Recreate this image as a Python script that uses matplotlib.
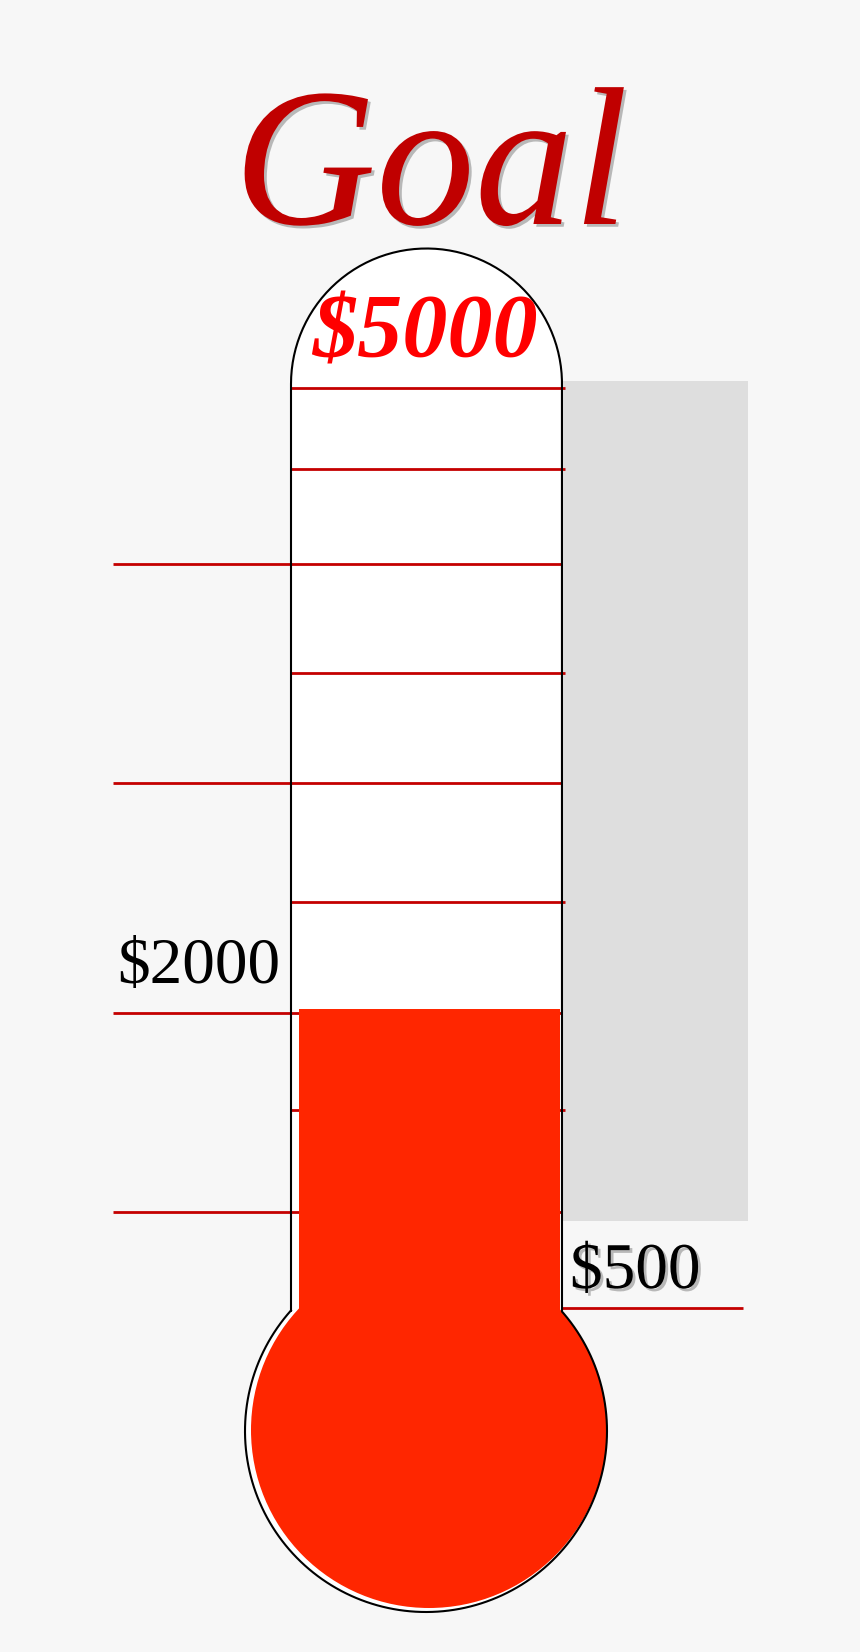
import numpy as np
import matplotlib
matplotlib.use('Agg')
import matplotlib.pyplot as plt
from matplotlib.transforms import Affine2D
from matplotlib.patches import Circle, Polygon
import matplotlib.patheffects as pe

# ---- data (dollars) ----
goal = 5000
raised = 2020
short_ticks = [5180, 4765, 3730, 2565, 1505]
long_ticks = [4285, 3170, 2000, 990]
right_ticks = [500]
label_values = [2000, 500]
label_texts = ['$2000', '$500']
panel_range = [940, 5215]

W, H, DPI = 860, 1652, 100
BG = '#f7f7f7'
RED = '#ff2600'
LINE_RED = '#c40000'

fig = plt.figure(figsize=(W / DPI, H / DPI), dpi=DPI)
fig.patch.set_facecolor(BG)
ax = fig.add_axes([0, 0, 1, 1])
ax.axis('off')

# vertical dollar scale: $500 at pixel row 1308, $2000 at row 1013
ppd = (1308 - 1013) / 1500
zero_row = 1308 + 500 * ppd
ax.set_xlim(0, W)
ax.set_ylim((zero_row - H) / ppd, zero_row / ppd)

# pixel transform (origin top-left) for decorative shapes
px = Affine2D().scale(1 / DPI, -1 / DPI).translate(0, H / DPI) + fig.dpi_scale_trans

# grey panel
ax.bar((562 + 748) / 2, panel_range[1] - panel_range[0], bottom=panel_range[0],
       width=186, color='#dedede', zorder=1, linewidth=0)

# thermometer geometry (pixels)
tl, tr = 291, 562
dome_cy = 384
dome_r = (tr - tl) / 2
dome_cx = (tl + tr) / 2
bcx, bcy, br = 426, 1431, 181

jl = bcy - np.sqrt(br ** 2 - (tl - bcx) ** 2)
jr = bcy - np.sqrt(br ** 2 - (tr - bcx) ** 2)

t_dome = np.linspace(0, -np.pi, 120)
dome_pts = np.column_stack([dome_cx + dome_r * np.cos(t_dome), dome_cy + dome_r * np.sin(t_dome)])
tube_pts = np.vstack([[[tr, jr]], dome_pts, [[tl, jl]]])
ax.add_patch(Polygon(tube_pts, closed=True, facecolor='white', edgecolor='none',
                     transform=px, zorder=2))
ax.add_patch(Circle((bcx, bcy), br, facecolor='white', edgecolor='none', transform=px, zorder=2))

# tick lines
ax.hlines(short_ticks, tl, 565, colors=LINE_RED, linewidth=2.0, zorder=3)
ax.hlines(long_ticks, 113, tr, colors=LINE_RED, linewidth=2.0, zorder=3)
ax.hlines(right_ticks, tr, 743, colors=LINE_RED, linewidth=2.0, zorder=3)

# mercury
ax.bar(429.5, raised, bottom=0, width=261, color=RED, zorder=4, linewidth=0)
ax.add_patch(Circle((429, 1430), 178, facecolor=RED, edgecolor='none', transform=px, zorder=4))

# outline
a_l = np.arctan2(jl - bcy, tl - bcx) + 2 * np.pi
a_r = np.arctan2(jr - bcy, tr - bcx)
t_b = np.linspace(a_l, a_r, 300)
bulb_pts = np.column_stack([bcx + br * np.cos(t_b), bcy + br * np.sin(t_b)])
outline = np.vstack([bulb_pts, [[tr, jr]], dome_pts, [[tl, jl]]])
ax.plot(outline[:, 0], outline[:, 1], color='black', linewidth=1.5, transform=px, zorder=5)

# texts
shadow = [pe.SimplePatchShadow(offset=(2, -2), shadow_rgbFace='#444444', alpha=0.35), pe.Normal()]
ax.text(431, 224, 'Goal', transform=px, fontsize=142, family='Liberation Serif',
        style='italic', color='#c00000', ha='center', va='baseline', zorder=10,
        path_effects=shadow)
ax.text(425, 358, f'${goal}', transform=px, fontsize=65, family='Liberation Serif',
        style='italic', weight='bold', color='#ff0000', ha='center', va='baseline', zorder=10)

ax.annotate(label_texts[0], xy=(117, label_values[0]), xytext=(0, 30), textcoords='offset pixels',
            fontsize=47, family='Liberation Serif', color='black', ha='left', va='baseline', zorder=10)
ax.annotate(label_texts[1], xy=(570, label_values[1]), xytext=(0, 20), textcoords='offset pixels',
            fontsize=47, family='Liberation Serif', color='black', ha='left', va='baseline', zorder=10,
            path_effects=shadow)

fig.savefig('out.png', dpi=DPI, facecolor=BG)
